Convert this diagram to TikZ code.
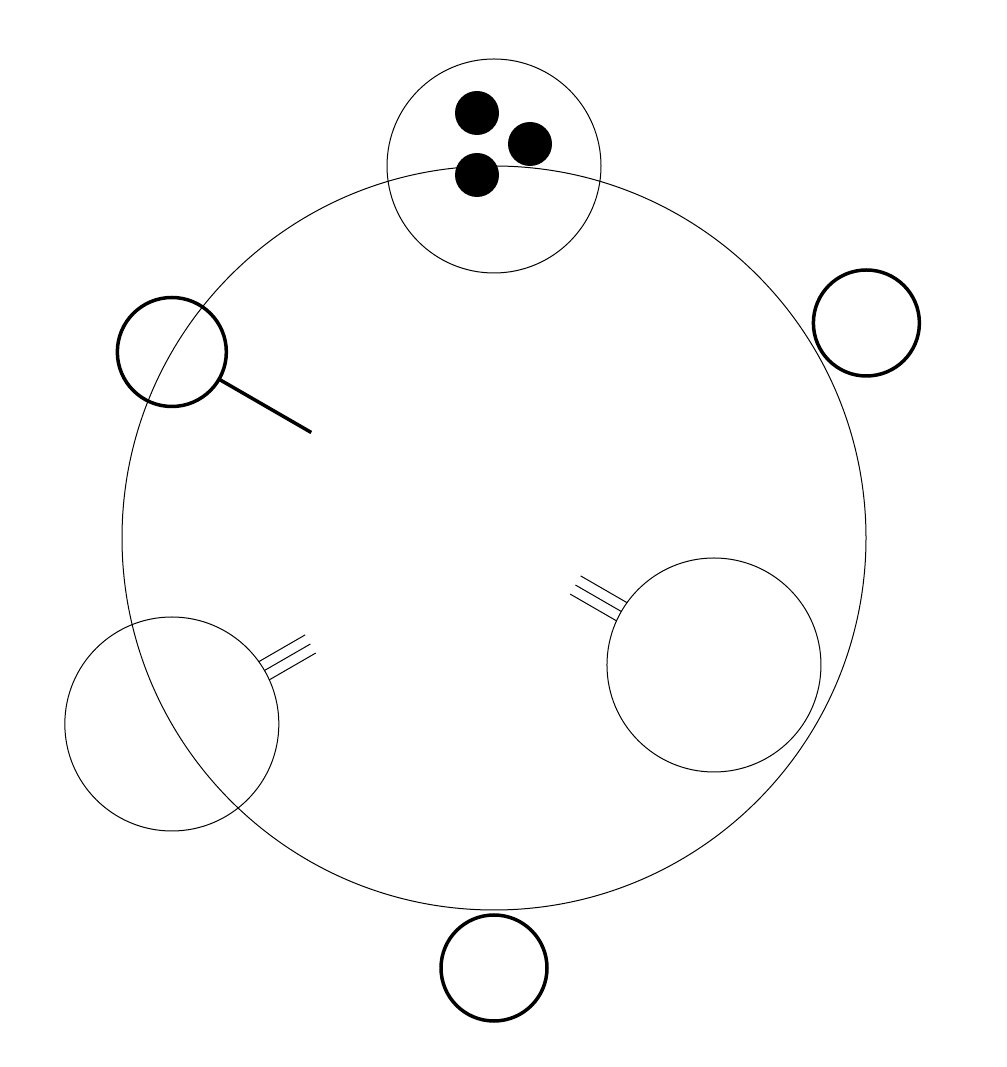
\documentclass[tikz,border=0pt]{standalone}
\usetikzlibrary{calc}
\begin{document}
\begin{tikzpicture}[x=1pt,y=1pt,
  thin/.style={circle,draw,line width=1pt,inner sep=0pt,outer sep=0pt},
  bold/.style={circle,draw,line width=3.5pt,inner sep=0pt,outer sep=0pt,minimum size=106pt},
  dot/.style={circle,fill=black,inner sep=0pt,outer sep=0pt,minimum size=44pt},
  wire/.style={line width=1pt},
  boldline/.style={line width=3.5pt}]
\useasboundingbox (0,0) rectangle (1006,1067);
% main circle
\node[thin,minimum size=744pt] (big) at (494,529) {};
% top circle with dots
\node[thin,minimum size=214pt] (top) at ($(big)+(90:372)$) {};
\node[dot] (d1) at ($(top)+(-17,53)$) {};
\node[dot] (d2) at ($(top)+(36,22)$) {};
\node[dot] (d3) at ($(top)+(-17,-9)$) {};
% magnifier
\node[bold,minimum size=109pt] (mag) at ($(big)+(150:372)$) {};
\coordinate (magend) at ($(mag)+(330:161)$);
\draw[boldline] (mag.330) -- (magend);
% outer thick circles
\node[bold] (ur) at ($(big)+(30:430)$) {};
\node[bold] (bot) at ($(big)+(270:430)$) {};
% right inner circle with triple lines
\node[thin,minimum size=214pt] (rc) at ($(big)+(-30:254)$) {};
\foreach \d/\a in {-10.5/106.5,0/107,10.5/106.5}{
  \draw[wire] ($(rc)+(150:\a)+(240:\d)$) -- ($(rc)+(150:160)+(240:\d)$);
}
% left circle with triple lines
\node[thin,minimum size=214pt] (lc) at ($(big)+(210:372)$) {};
\foreach \d/\a in {-10.5/106.5,0/107,10.5/106.5}{
  \draw[wire] ($(lc)+(30:\a)+(120:\d)$) -- ($(lc)+(30:160)+(120:\d)$);
}
\end{tikzpicture}
\end{document}
